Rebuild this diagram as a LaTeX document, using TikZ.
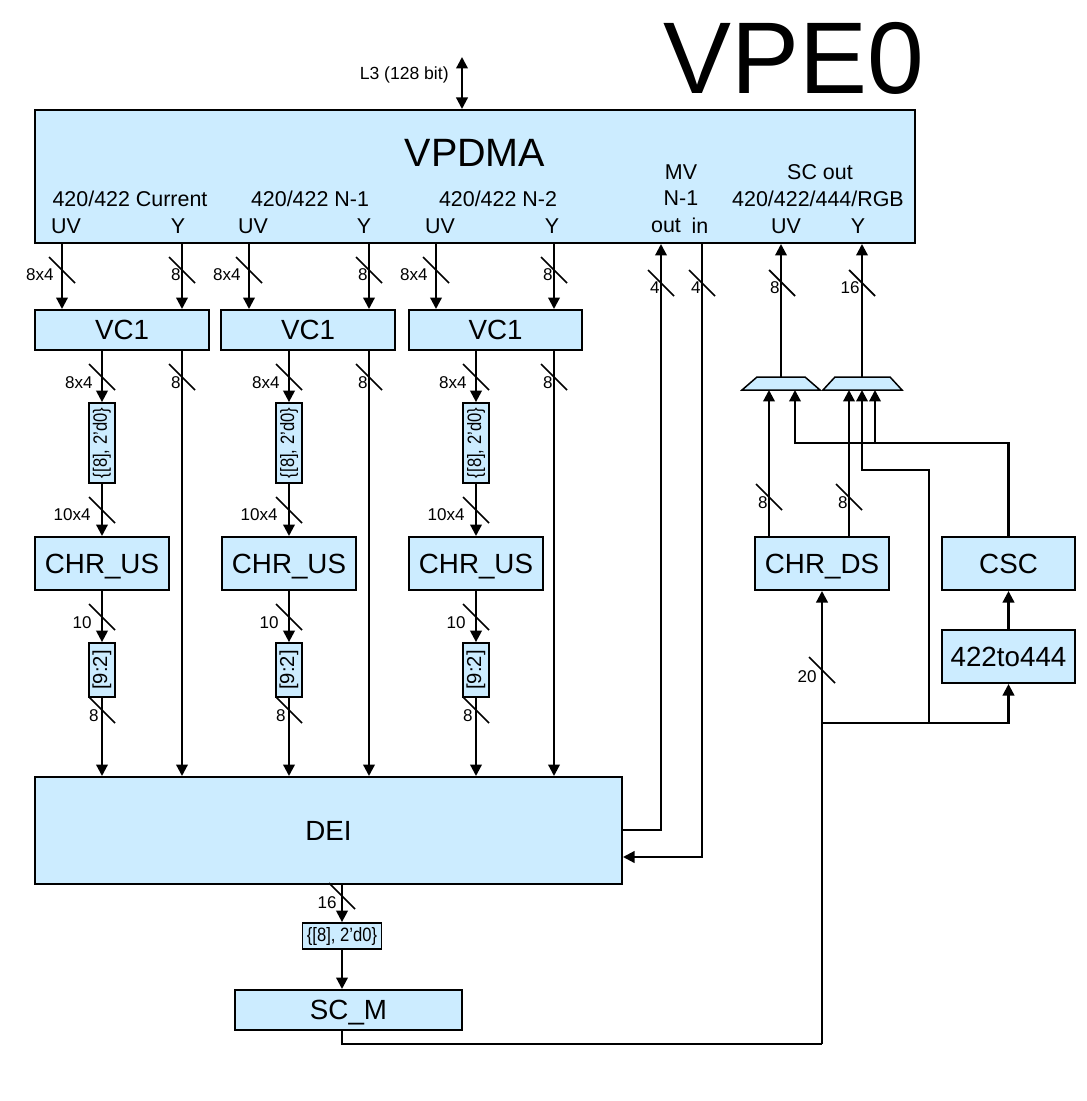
\documentclass[tikz,border=0pt]{standalone}
\usepackage{fontspec}
\setmainfont{Liberation Sans}
\usepackage{graphicx}
\usetikzlibrary{arrows.meta}
\definecolor{boxblue}{RGB}{204,236,255}
\newcommand\fs[1]{\fontsize{#1}{#1}\selectfont}
\newcommand\padtxt{\scalebox{0.86}[1]{\fs{11pt}\{[8], 2'd0\}}}
\newcommand\busmark[6]{%
  \draw[slash] (#2-13,#3-13) -- (#2+13,#3+13);
  \node[lbl,anchor=east] (#1) at (#2+#4,#3+#5) {#6};}
\begin{document}
\begin{tikzpicture}[x=0.02cm,y=-0.02cm,
  wire/.style={line width=0.045cm},
  arr/.style={wire,-{Triangle[length=0.23cm,width=0.23cm]}},
  darr/.style={wire,{Triangle[length=0.23cm,width=0.23cm]}-{Triangle[length=0.23cm,width=0.23cm]}},
  blk/.style={draw,line width=0.04cm,fill=boxblue,inner sep=0pt,text depth=0pt,font=\fs{15.8pt}},
  sbx/.style={draw,line width=0.035cm,fill=boxblue,inner sep=0pt},
  mux/.style={draw,line width=0.03cm,fill=boxblue,line join=miter},
  lbl/.style={inner sep=0pt,font=\fs{9.7pt}},
  plbl/.style={inner sep=0pt,font=\fs{12.2pt}},
  slash/.style={line width=0.035cm},
  sz/.style 2 args={minimum width=#1*0.02cm,minimum height=#2*0.02cm},
]
\useasboundingbox (0,0) rectangle (1087,1101);

% ---------- title ----------
\node[inner sep=0pt,font=\fs{58pt}] (vpe) at (794,58) {VPE0};

% ---------- VPDMA ----------
\node[blk,sz={880}{133}] (vpdma) at (475,176.5) {};
\node[inner sep=0pt,font=\fs{22.5pt}] (vpdmat) at (475,153) {VPDMA};
\node[plbl] (p1) at (130,199) {420/422 Current};
\node[plbl] (p2) at (310,199) {420/422 N-1};
\node[plbl] (p3) at (498,199) {420/422 N-2};
\node[plbl] (p4) at (681,172) {MV};
\node[plbl] (p5) at (681,198) {N-1};
\node[plbl] (p6) at (820,172) {SC out};
\node[plbl] (p7) at (818,199) {420/422/444/RGB};
\node[plbl] (q1) at (66,226) {UV};
\node[plbl] (q2) at (178,226) {Y};
\node[plbl] (q3) at (253,226) {UV};
\node[plbl] (q4) at (364,226) {Y};
\node[plbl] (q5) at (440,226) {UV};
\node[plbl] (q6) at (552,226) {Y};
\node[plbl] (q7) at (666,226) {out};
\node[plbl] (q8) at (700,226) {in};
\node[plbl] (q9) at (786,226) {UV};
\node[plbl] (q10) at (858,226) {Y};

% L3
\coordinate (l3top) at (462,57);
\node[inner sep=0pt,font=\fs{10pt},anchor=east] (l3) at (449,75) {L3 (128 bit)};
\draw[darr] (l3top) -- (vpdma.north -| l3top);

% ---------- columns ----------
\coordinate (cu1) at (62,0);  \coordinate (cy1) at (182,0);
\coordinate (cu2) at (249,0); \coordinate (cy2) at (369,0);
\coordinate (cu3) at (436,0); \coordinate (cy3) at (554,0);
\coordinate (cd1) at (769,0); \coordinate (cd2) at (849,0);
\coordinate (cc1) at (795,0); \coordinate (cc2) at (875,0);

% ---------- VC1 ----------
\node[blk,sz={174}{40}] (vc1a) at (122,330) {VC1};
\node[blk,sz={174}{40}] (vc1b) at (308,330) {VC1};
\node[blk,sz={173}{40}] (vc1c) at (495.5,330) {VC1};

% ---------- small boxes ----------
\node[sbx,sz={26}{80}] (sba) at (102,443) {\rotatebox{90}{\padtxt}};
\node[sbx,sz={26}{80}] (sbb) at (289,443) {\rotatebox{90}{\padtxt}};
\node[sbx,sz={26}{80}] (sbc) at (476,443) {\rotatebox{90}{\padtxt}};

% ---------- CHR_US ----------
\node[blk,sz={134}{53}] (chra) at (102,563.5) {CHR\_US};
\node[blk,sz={134}{53}] (chrb) at (289,563.5) {CHR\_US};
\node[blk,sz={134}{53}] (chrc) at (476,563.5) {CHR\_US};

% ---------- [9:2] ----------
\node[sbx,sz={26}{54}] (sca) at (102,670) {\rotatebox{90}{\fs{11.5pt}[9:2]}};
\node[sbx,sz={26}{54}] (scb) at (289,670) {\rotatebox{90}{\fs{11.5pt}[9:2]}};
\node[sbx,sz={26}{54}] (scc) at (476,670) {\rotatebox{90}{\fs{11.5pt}[9:2]}};

% ---------- DEI, SC_M ----------
\node[blk,sz={587}{107}] (dei) at (328.5,830.5) {DEI};
\node[sbx,sz={79}{26}] (bbox) at (342,936) {\padtxt};
\node[blk,sz={227}{40}] (scm) at (348.5,1010) {SC\_M};

% ---------- right side ----------
\node[blk,sz={134}{53}] (chrds) at (822,563.5) {CHR\_DS};
\node[blk,sz={133}{53}] (csc) at (1008.5,563.5) {CSC};
\node[blk,sz={133}{53}] (c422) at (1008.5,656.5) {422to444};
% multiplexers
\draw[mux] (742,390) -- (757,377) -- (805,377) -- (820,390) -- cycle;
\draw[mux] (823,390) -- (835,377) -- (890,377) -- (902,390) -- cycle;
\coordinate (mux1b) at (781,390); \coordinate (mux1t) at (781,377);
\coordinate (mux2b) at (862,390); \coordinate (mux2t) at (862,377);

% ---------- connectors: chains ----------
\foreach \v/\u/\y in {vc1a/cu1/cy1, vc1b/cu2/cy2, vc1c/cu3/cy3}{
  \draw[arr] (vpdma.south -| \u) -- (\v.north -| \u);
  \draw[arr] (vpdma.south -| \y) -- (\v.north -| \y);
  \draw[arr] (\v.south -| \y) -- (dei.north -| \y);
}
\foreach \v/\s/\c/\t in {vc1a/sba/chra/sca, vc1b/sbb/chrb/scb, vc1c/sbc/chrc/scc}{
  \draw[arr] (\v.south -| \s) -- (\s.north);
  \draw[arr] (\s.south) -- (\c.north);
  \draw[arr] (\c.south) -- (\t.north);
  \draw[arr] (\t.south) -- (dei.north -| \t);
}

% MV
\coordinate (mvo) at (661,830);
\coordinate (mvi) at (702,857);
\draw[arr] (dei.east |- mvo) -- (mvo) -- (vpdma.south -| mvo);
\draw[arr] (vpdma.south -| mvi) -- (mvi) -- (dei.east |- mvi);

% DEI -> SC_M -> CHR_DS
\draw[arr] (dei.south -| bbox) -- (bbox.north);
\draw[arr] (bbox.south) -- (scm.north -| bbox);
\coordinate (sb) at (342,1044);
\coordinate (sr) at (822,1044);
\draw[wire] (scm.south -| bbox) -- (sb) -- (sr);
\draw[arr] (sr) -- (chrds.south);
\coordinate (jn) at (822,723);
\coordinate (jb) at (929,723);
\coordinate (jt) at (929,470);
\draw[arr] (jn) -| (c422.south);
\draw[arr] (jb) -- (jt) -| (mux2b);
\draw[arr] (c422.north) -- (csc.south);
\coordinate (ct) at (1008.5,443);
\draw[arr] (csc.north) -- (ct) -| (mux1b -| cc1);
\draw[arr] (cc2 |- ct) -- (mux2b -| cc2);
\draw[arr] (chrds.north -| cd1) -- (mux1b -| cd1);
\draw[arr] (chrds.north -| cd2) -- (mux2b -| cd2);
\draw[arr] (mux1t) -- (vpdma.south -| mux1t);
\draw[arr] (mux2t) -- (vpdma.south -| mux2t);

% ---------- bus marks ----------
\busmark{b1}{62}{270}{-8}{5}{8x4}
\busmark{b2}{182}{270}{-1}{5}{8}
\busmark{b3}{249}{270}{-8}{5}{8x4}
\busmark{b4}{369}{270}{-1}{5}{8}
\busmark{b5}{436}{270}{-8}{5}{8x4}
\busmark{b6}{554}{270}{-1}{5}{8}
\busmark{b7}{661}{283}{-1}{5}{4}
\busmark{b8}{702}{283}{-1}{5}{4}
\busmark{b9}{782}{283}{-2}{5}{8}
\busmark{b10}{862}{283}{-2}{5}{16}
\foreach \X/\Y [count=\i] in {102/182, 289/369, 476/554}{
  \busmark{c\i a}{\X}{377}{-9}{6}{8x4}
  \busmark{c\i b}{\Y}{377}{-1}{6}{8}
  \busmark{c\i c}{\X}{510}{-11}{5}{10x4}
  \busmark{c\i d}{\X}{617}{-10}{6}{10}
  \busmark{c\i e}{\X}{710}{-3}{6}{8}
}
\busmark{d1}{342}{896}{-5}{7}{16}
\busmark{d2}{769}{497}{-1}{6}{8}
\busmark{d3}{849}{497}{-1}{6}{8}
\busmark{d4}{822}{670}{-5}{7}{20}
\end{tikzpicture}
\end{document}
